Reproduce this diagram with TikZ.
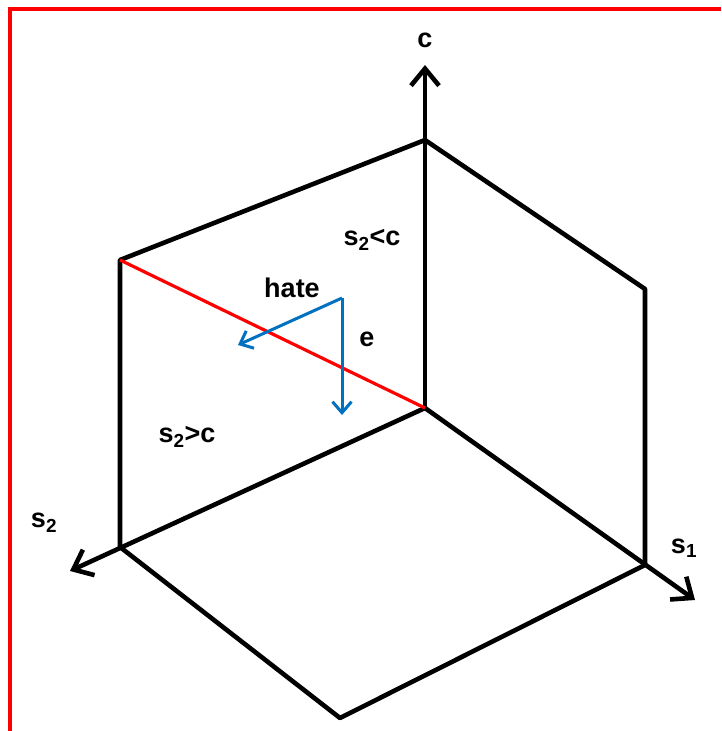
\documentclass[tikz,border=0pt]{standalone}
\usepackage{fontspec}
\setmainfont{Liberation Sans}
\usetikzlibrary{arrows.meta}

\begin{document}
\begin{tikzpicture}[
  x=1pt, y=-1pt,
  edge/.style={line width=4.6pt, line cap=round, line join=round},
  axis/.style={edge, -{Straight Barb[length=17pt, width=28pt, line width=4.6pt]}},
  move/.style={line width=3pt, draw={rgb,255:red,0;green,112;blue,192}, -{Straight Barb[length=11pt, width=19pt, line width=3pt]}},
  label/.style={font=\fontsize{27}{32}\selectfont\bfseries, inner sep=0pt}
]
\useasboundingbox (0,0) rectangle (721,731);

% frame
\draw[red, line width=4pt] (10,731) -- (10,9) -- (721,9);

% corners of the box
\coordinate (O) at (425,408);
\coordinate (top) at (425,140);
\coordinate (left) at (120,260);
\coordinate (lbot) at (120,547);
\coordinate (right) at (645,289);
\coordinate (rbot) at (645,565);
\coordinate (front) at (340,718);
\coordinate (ctip) at (425,65);
\coordinate (s1tip) at (695,600);
\coordinate (s2tip) at (70,571);

% walls and floor
\draw[edge] (lbot) -- (left) -- (top) -- (right) -- (rbot);
\draw[edge] (lbot) -- (front) -- (rbot);

% axes
\draw[axis] (O) -- (ctip);
\draw[axis] (O) -- (s1tip);
\draw[axis] (O) -- (s2tip);

% boundary s2 = c
\draw[red, line width=3.2pt] (left) -- (O);

% moves
\coordinate (m) at (342,298);
\draw[move] (m) -- (238,345);
\draw[move] (m) -- (342,415);

% labels
\node[label] (cl) at (425,40) {c};
\node[label] (s1l) at (684,548) {s$_{\mathbf 1}$};
\node[label] (s2l) at (44,523) {s$_{\mathbf 2}$};
\node[label] (hate) at (292,288) {hate};
\node[label] (el) at (367,339) {e};
\node[label] (up) at (372,240) {s$_{\mathbf 2}$<c};
\node[label] (down) at (187,437) {s$_{\mathbf 2}$>c};

\end{tikzpicture}
\end{document}
